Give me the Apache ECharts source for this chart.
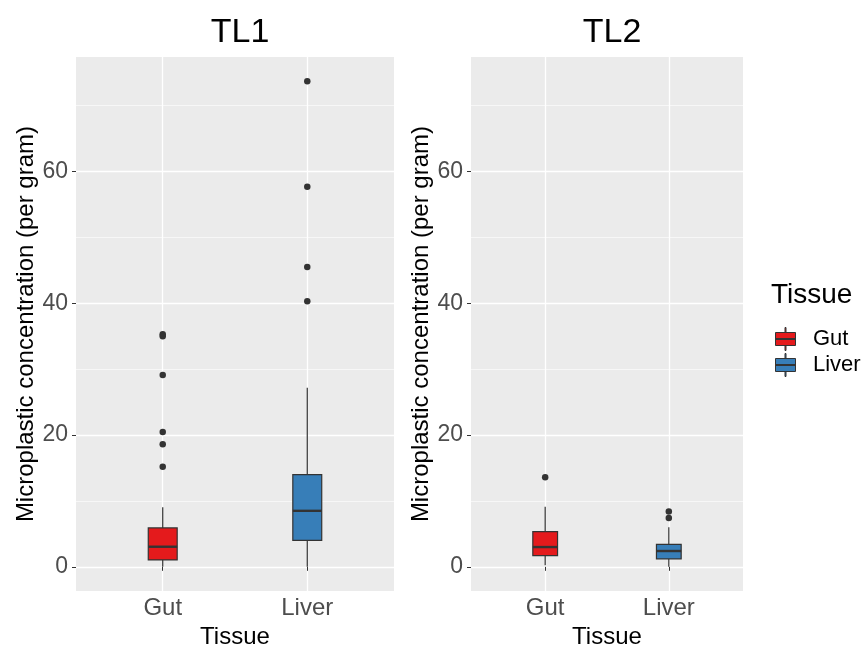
<!DOCTYPE html>
<html>
<head>
<meta charset="utf-8">
<script src="https://cdn.jsdelivr.net/npm/echarts@6/dist/echarts.min.js"></script>
<style>html,body{margin:0;padding:0;background:#fff;}#chart{width:867px;height:654px;}</style>
</head>
<body>
<div id="chart"></div>
<script>
// ---- data ----
const CATEGORIES = ['Gut', 'Liver'];
const PANELS = ['TL1', 'TL2'];
// [min whisker, Q1, median, Q3, max whisker]
const TL1_GUT_BOX = [0.0, 1.05, 3.05, 5.9, 9.05];
const TL1_LIVER_BOX = [0.0, 4.0, 8.5, 14.0, 27.2];
const TL2_GUT_BOX = [0.25, 1.7, 3.0, 5.35, 9.1];
const TL2_LIVER_BOX = [0.0, 1.2, 2.4, 3.4, 6.0];
// outliers
const TL1_GUT_OUT = [35.3, 35.0, 29.1, 20.45, 18.6, 15.2];
const TL1_LIVER_OUT = [73.7, 57.7, 45.5, 40.3];
const TL2_GUT_OUT = [13.6];
const TL2_LIVER_OUT = [8.4, 7.4];
// ticks
const Y_TICKS = [0, 20, 40, 60];
const Y_MINOR = [10, 30, 50, 70];
const X_TICKS = [1, 2];

const COLORS = { Gut: '#E41A1C', Liver: '#377EB8' };
const FONT = "'Liberation Sans', Arial, sans-serif";
const Y_MIN = -3.685, Y_MAX = 77.385;
const BOX_W = 0.2;

const boxes = [[TL1_GUT_BOX, TL1_LIVER_BOX], [TL2_GUT_BOX, TL2_LIVER_BOX]];
const outs = [[TL1_GUT_OUT, TL1_LIVER_OUT], [TL2_GUT_OUT, TL2_LIVER_OUT]];

const GRIDS = [
  { left: 76, right: 473, top: 57, bottom: 59 },
  { left: 471, right: 124, top: 57, bottom: 59 }
];

function renderBox(params, api) {
  const x = api.value(0);
  const lo = api.coord([x, api.value(1)]);
  const q1 = api.coord([x, api.value(2)]);
  const md = api.coord([x, api.value(3)]);
  const q3 = api.coord([x, api.value(4)]);
  const hi = api.coord([x, api.value(5)]);
  const hw = api.size([BOX_W, 0])[0] / 2;
  const stroke = '#333333';
  return {
    type: 'group',
    children: [
      { type: 'line', shape: { x1: lo[0], y1: lo[1], x2: q1[0], y2: q1[1] }, style: { stroke: stroke, lineWidth: 1.2 } },
      { type: 'line', shape: { x1: q3[0], y1: q3[1], x2: hi[0], y2: hi[1] }, style: { stroke: stroke, lineWidth: 1.2 } },
      { type: 'rect', shape: { x: q1[0] - hw, y: q3[1], width: 2 * hw, height: q1[1] - q3[1] }, style: { fill: api.visual('color'), stroke: stroke, lineWidth: 1.2 } },
      { type: 'line', shape: { x1: md[0] - hw, y1: md[1], x2: md[0] + hw, y2: md[1] }, style: { stroke: stroke, lineWidth: 2.4 } }
    ]
  };
}

const grid = GRIDS.map(g => Object.assign({ show: true, backgroundColor: '#EBEBEB', borderWidth: 0, containLabel: false }, g));

const xAxis = PANELS.map((p, i) => ({
  type: 'value', gridIndex: i, min: 0.4, max: 2.6,
  name: 'Tissue', nameLocation: 'middle', nameGap: 31,
  nameTextStyle: { fontSize: 24, color: '#000', fontFamily: FONT },
  axisLine: { show: false },
  axisTick: { show: true, customValues: X_TICKS, length: 4, lineStyle: { color: '#333', width: 1 } },
  axisLabel: { customValues: X_TICKS, formatter: v => CATEGORIES[Math.round(v) - 1], fontSize: 24, color: '#4D4D4D', fontFamily: FONT, margin: 5 },
  splitLine: { show: true, lineStyle: { color: '#FFFFFF', width: 1.3 } }
}));

const yAxis = [];
PANELS.forEach((p, i) => {
  yAxis.push({
    type: 'value', gridIndex: i, min: Y_MIN, max: Y_MAX,
    name: 'Microplastic concentration (per gram)', nameLocation: 'middle', nameGap: 37,
    nameTextStyle: { fontSize: 24, color: '#000', fontFamily: FONT },
    axisLine: { show: false },
    axisTick: { show: true, customValues: Y_TICKS, length: 4, lineStyle: { color: '#333', width: 1 } },
    axisLabel: { customValues: Y_TICKS, fontSize: 23, color: '#4D4D4D', fontFamily: FONT, margin: 8 },
    splitLine: { show: true, lineStyle: { color: '#FFFFFF', width: 1.3 } }
  });
  yAxis.push({
    type: 'value', gridIndex: i, min: Y_MIN, max: Y_MAX, position: 'left',
    axisLine: { show: false },
    axisTick: { show: false, customValues: Y_MINOR },
    axisLabel: { show: false, customValues: Y_MINOR },
    splitLine: { show: true, lineStyle: { color: '#FFFFFF', width: 0.6 } }
  });
});

const series = [];
PANELS.forEach((p, i) => {
  CATEGORIES.forEach((c, j) => {
    series.push({
      name: c, type: 'custom', xAxisIndex: i, yAxisIndex: 2 * i,
      renderItem: renderBox,
      itemStyle: { color: COLORS[c], borderColor: '#333' },
      encode: { x: 0, y: [1, 2, 3, 4, 5] },
      data: [[X_TICKS[j]].concat(boxes[i][j])],
      z: 3
    });
    series.push({
      name: p + ' ' + c + ' outliers', type: 'scatter', xAxisIndex: i, yAxisIndex: 2 * i,
      symbolSize: 6.5, itemStyle: { color: '#333333', opacity: 1 },
      data: outs[i][j].map(v => [X_TICKS[j], v]),
      z: 4
    });
  });
});

const BOX_ICON = 'path://M9.5,0h1v5h-1z M0,5h20v13h-20z M0,11h20v1h-20z M9.5,18h1v5h-1z';

const option = {
  animation: false,
  backgroundColor: '#FFFFFF',
  title: [
    { text: PANELS[0], left: 235, top: 11, textAlign: 'center', textStyle: { fontSize: 34, fontWeight: 'normal', color: '#000', fontFamily: FONT } },
    { text: PANELS[1], left: 607, top: 11, textAlign: 'center', textStyle: { fontSize: 34, fontWeight: 'normal', color: '#000', fontFamily: FONT } },
    { text: 'Tissue', left: 766, top: 276, textStyle: { fontSize: 28, fontWeight: 'normal', color: '#000', fontFamily: FONT } }
  ],
  legend: {
    data: CATEGORIES, orient: 'vertical', left: 770, top: 322,
    itemWidth: 21, itemHeight: 23, itemGap: 2,
    icon: BOX_ICON,
    itemStyle: { borderColor: '#333', borderWidth: 1 },
    textStyle: { fontSize: 22, color: '#000', fontFamily: FONT, padding: [0, 0, 0, 12] },
    selectedMode: false
  },
  grid: grid,
  xAxis: xAxis,
  yAxis: yAxis,
  series: series
};

const chart = echarts.init(document.getElementById('chart'), null, { renderer: 'canvas' });
chart.setOption(option);
</script>
</body>
</html>
